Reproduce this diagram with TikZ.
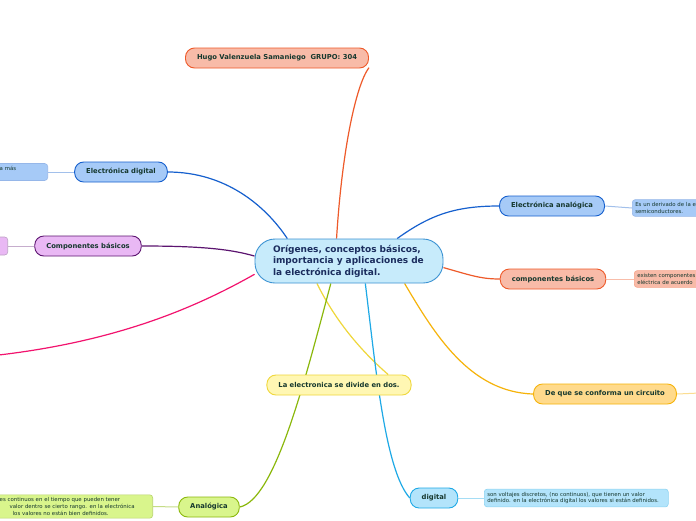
\documentclass[tikz,border=0pt]{standalone}
\usepackage{fontspec}
\setmainfont{DejaVu Sans}
\usetikzlibrary{backgrounds}
\definecolor{rootfill}{HTML}{C7EBFB}\definecolor{rootline}{HTML}{3C93D3}
\definecolor{roottext}{HTML}{1B2D5E}\definecolor{labeltext}{HTML}{16382E}
\definecolor{salmonfill}{HTML}{F8BBA8}\definecolor{redline}{HTML}{EE5A2A}
\definecolor{bluefill}{HTML}{A6CAF7}\definecolor{blueline}{HTML}{1660CE}
\definecolor{purplefill}{HTML}{E9B8F4}\definecolor{purpleline}{HTML}{5C1470}
\definecolor{pinkline}{HTML}{F2136E}
\definecolor{yellowfill}{HTML}{FFF7B3}\definecolor{yellowline}{HTML}{EFD73A}
\definecolor{orangefill}{HTML}{FFDA8C}\definecolor{orangeline}{HTML}{F6B30A}
\definecolor{cyanfill}{HTML}{B3E4FB}\definecolor{cyanline}{HTML}{1EA9E6}
\definecolor{greenfill}{HTML}{D9F58C}\definecolor{greenline}{HTML}{8BB80C}
\begin{document}
\begin{tikzpicture}[x=1pt,y=-1pt,
  topic/.style={draw,line width=0.9pt,rounded corners=9pt,minimum height=20pt,inner xsep=11.5pt,
    font=\fontsize{6.8}{8}\selectfont\bfseries,text=labeltext},
  note/.style={draw,line width=0.6pt,rounded corners=3pt,inner sep=3pt,align=left,
    font=\fontsize{5.4}{6.6}\selectfont,text=labeltext},
  branch/.style={line width=1.2pt},
  twig/.style={line width=1pt}]
\useasboundingbox (0,0) rectangle (696,520);
\clip (0,0) rectangle (696,520);
% central topic
\node[draw=rootline,fill=rootfill,line width=0.9pt,rounded corners=20pt,minimum height=44pt,
  inner xsep=18pt,text width=152pt,align=left,text=roottext,
  font=\fontsize{9}{11.5}\selectfont\bfseries] (root) at (349,261)
  {Orígenes, conceptos básicos, importancia y aplicaciones de la electrónica digital.};
% main topics
\node[topic,draw=redline,fill=salmonfill] (hugo) at (277,58) {Hugo Valenzuela Samaniego\ \ GRUPO: 304};
\node[topic,draw=blueline,fill=bluefill] (edig) at (121,172) {Electrónica digital};
\node[topic,draw=purpleline,fill=purplefill] (comp) at (88,246) {Componentes básicos};
\node[topic,draw=blueline,fill=bluefill] (eana) at (552,206) {Electrónica analógica};
\node[topic,draw=redline,fill=salmonfill] (cright) at (553,279) {componentes básicos};
\node[topic,draw=yellowline,fill=yellowfill] (divide) at (339,385) {La electronica se divide en dos.};
\node[topic,draw=orangeline,fill=orangefill] (circ) at (605,394) {De que se conforma un circuito};
\node[topic,draw=cyanline,fill=cyanfill] (dig) at (434,498) {digital};
\node[topic,draw=greenline,fill=greenfill] (ana) at (209,507) {Analógica};
% notes
\node[note,draw=blueline!45,fill=bluefill,anchor=east,text width=45pt] (edignote) at (48,172) {a más\\\mbox{}};
\node[note,draw=purpleline!40,fill=purplefill,anchor=east,minimum width=40pt,minimum height=18pt] (compnote) at (8,246) {};
\node[note,draw=blueline!45,fill=bluefill,anchor=west,text width=110pt] (eananote) at (632,208) {Es un derivado de la e\\semiconductores.};
\node[note,draw=redline!55,fill=salmonfill,anchor=west,text width=110pt] (crightnote) at (634,279) {existen componentes\\eléctrica de acuerdo};
\node[note,draw=cyanline!50,fill=cyanfill,anchor=west,text width=178pt] (dignote) at (484,498)
  {son voltajes discretos, (no continuos), que tienen un valor\\definido. en la electrónica digital los valores si están definidos.};
\node[note,draw=greenline!60,fill=greenfill,anchor=east,text width=150pt] (ananote) at (153,506.5)
  {es continuos en el tiempo que pueden tener\\\hspace*{10pt}valor dentro se cierto rango. en la electrónica\\\hspace*{13pt}los valores no están bien definidos.};
\coordinate (pinkend) at (-10,356);
\coordinate (circend) at (700,393);
% connectors
\begin{scope}[on background layer]
\fill[white] (0,0) rectangle (696,520);
\draw[branch,redline](root.119) .. controls (342,150) and (356,85) .. (hugo.-6.5);
\draw[branch,blueline](edig.east) .. controls (225,172) and (265,205) .. (root.160);
\draw[branch,purpleline](comp.east) .. controls (200,246) and (230,249) .. (root.177);
\draw[branch,pinkline](root.188) .. controls (200,305) and (120,342) .. (pinkend);
\draw[branch,blueline](root.25) .. controls (430,215) and (455,206) .. (eana.west);
\draw[branch,redline](root.-4) .. controls (470,275) and (480,279) .. (cright.west);
\draw[branch,orangeline](root.-22.5) .. controls (435,335) and (470,392) .. (circ.west);
\draw[branch,yellowline](root.215) .. controls (335,320) and (360,350) .. (divide.12);
\draw[branch,cyanline](root.-54) .. controls (376,370) and (385,470) .. (dig.west);
\draw[branch,greenline](root.231) .. controls (305,380) and (275,500) .. (ana.east);
\draw[twig,blueline!40](edignote.east)--(edig.west);
\draw[twig,purpleline!35](compnote.east)--(comp.west);
\draw[twig,blueline!40](eana.east)--(eananote.west);
\draw[twig,redline!40](cright.east)--(crightnote.west);
\draw[twig,orangeline!45](circ.east)--(circend);
\draw[twig,cyanline!40](dig.east)--(dignote.west);
\draw[twig,greenline!50](ananote.east)--(ana.west);
\end{scope}
\end{tikzpicture}
\end{document}
